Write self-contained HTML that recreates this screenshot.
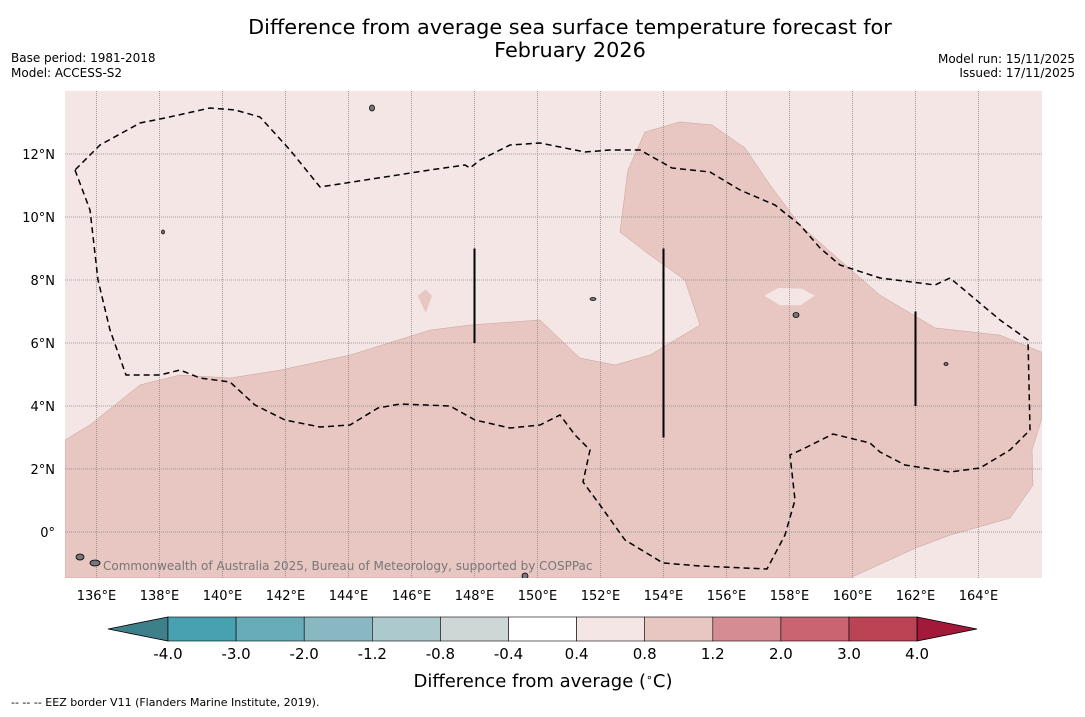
<!DOCTYPE html>
<html><head><meta charset="utf-8"><style>
body{margin:0;background:#fff;font-family:"DejaVu Sans","Liberation Sans",sans-serif}
svg text{font-family:"DejaVu Sans","Liberation Sans",sans-serif}
</style></head><body>
<svg id="c" width="1085" height="713" xmlns="http://www.w3.org/2000/svg">
<text x="570" y="34" font-size="20.8" text-anchor="middle">Difference from average sea surface temperature forecast for</text>
<text x="570" y="57" font-size="20.8" text-anchor="middle">February 2026</text>
<text x="11" y="62" font-size="12">Base period: 1981-2018</text>
<text x="11" y="77" font-size="12">Model: ACCESS-S2</text>
<text x="1075" y="63" font-size="12" text-anchor="end">Model run: 15/11/2025</text>
<text x="1075" y="77" font-size="12" text-anchor="end">Issued: 17/11/2025</text>
<defs><clipPath id="mapclip"><rect x="65" y="91" width="977" height="487"/></clipPath></defs>
<g id="map" clip-path="url(#mapclip)">
<rect x="65" y="91" width="977" height="487" fill="#f4e6e4"/>
</g>
<g id="axes"></g>
<g id="cbar"></g>
<text x="543" y="687" font-size="18" text-anchor="middle">Difference from average (<tspan baseline-shift="super" font-size="11">∘</tspan>C)</text>
<text x="11" y="706" font-size="11">--  --  -- EEZ border V11 (Flanders Marine Institute, 2019).</text>
</svg>
<script>
const NS="http://www.w3.org/2000/svg";
const lonTicks=[136,138,140,142,144,146,148,150,152,154,156,158,160,162,164];
const latTicks=[0,2,4,6,8,10,12];
const cbarLevels=["-4.0","-3.0","-2.0","-1.2","-0.8","-0.4","0.4","0.8","1.2","2.0","3.0","4.0"];
const cbarColors=["#48a1b0","#68abb9","#89b8c3","#acc9cd","#cfd6d6","#ffffff","#f4e6e4","#e8c6c2","#d58d93","#c96570","#bb4454"];
const warmRegion=[[135,-1.46],[135,2.92],[135.79,3.4],[137.38,4.67],[138.65,4.98],[140.24,4.89],[141.83,5.14],[144.05,5.62],[146.59,6.41],[147.86,6.57],[150.08,6.73],[151.35,5.52],[152.46,5.3],[153.57,5.62],[155.16,6.57],[154.68,8],[153.57,8.79],[152.62,9.52],[152.87,11.49],[153.41,12.7],[154.52,13.02],[155.54,12.92],[156.59,12.19],[157.38,11.02],[158.33,9.75],[159.6,8.63],[160.87,7.52],[162.62,6.48],[164.68,6.25],[166,5.71],[166,3.56],[165.7,2.6],[165.73,1.49],[165,0.44],[163.1,-0.1],[162,-0.51],[159.92,-1.46]];
const coolHole1=[[157.2,7.5],[157.65,7.75],[158.4,7.72],[158.8,7.5],[158.35,7.2],[157.7,7.2]];
const coolHole2=[[146.2,7.5],[146.45,7.7],[146.65,7.5],[146.45,6.95]];
const eezPx=[[75,170],[90,210],[98,280],[110,330],[126,375],[160,375],[180,370],[200,378],[230,382],[255,405],[285,420],[320,427],[350,425],[378,408],[400,404],[450,406],[475,420],[510,428],[540,425],[560,415],[575,435],[590,450],[583,482],[600,505],[625,540],[663,563],[700,566],[767,569],[785,535],[795,500],[790,455],[805,448],[833,434],[870,443],[880,452],[905,465],[950,472],[980,468],[1010,450],[1030,430],[1028,340],[1000,320],[950,278],[935,285],[880,278],[840,265],[820,248],[800,225],[775,205],[740,190],[710,172],[672,168],[640,150],[610,150],[585,152],[540,143],[510,145],[480,160],[470,168],[465,165],[430,170],[320,187],[290,150],[260,117],[235,110],[210,108],[165,118],[140,123],[100,145],[75,170]];
const bars=[[148,9,6],[154,9,3],[162,7,4]];
const X=lon=>65+(lon-135)*31.5, Y=lat=>91+(14-lat)*31.5;
function el(t,a,p){const e=document.createElementNS(NS,t);for(const k in a)e.setAttribute(k,a[k]);p.appendChild(e);return e;}
const map=document.getElementById('map'),axes=document.getElementById('axes'),cb=document.getElementById('cbar');
const pts=arr=>arr.map(p=>X(p[0]).toFixed(1)+','+Y(p[1]).toFixed(1)).join(' ');
let e=el('polygon',{points:pts(warmRegion),fill:'#e8c6c2',stroke:'#c9a09b','stroke-width':0.5},map);

e=el('polygon',{points:pts(coolHole1),fill:'#f4e6e4'},map);

e=el('polygon',{points:pts(coolHole2),fill:'#e8c6c2'},map);

lonTicks.forEach(l=>{const g=el('line',{x1:X(l),x2:X(l),y1:91,y2:578,stroke:'#888','stroke-width':0.8,'stroke-dasharray':'1,1'},map);

const t=el('text',{x:X(l),y:600,'font-size':13,'text-anchor':'middle'},axes);t.textContent=l+'°E';
});
latTicks.forEach(l=>{const g=el('line',{x1:65,x2:1042,y1:Y(l),y2:Y(l),stroke:'#888','stroke-width':0.8,'stroke-dasharray':'1,1'},map);

const t=el('text',{x:55,y:Y(l)+5,'font-size':13,'text-anchor':'end'},axes);t.textContent=l===0?'0°':l+'°N';
});
e=el('polyline',{points:eezPx.map(p=>p.join(',')).join(' '),fill:'none',stroke:'#000','stroke-width':1.5,'stroke-dasharray':'6,4'},map);

bars.forEach(b=>{const l=el('line',{x1:X(b[0]),x2:X(b[0]),y1:Y(b[1]),y2:Y(b[2]),stroke:'#000','stroke-width':2},map);
});
const islands=[[80,557,4,3],[95,563,5,3],[372,108,2.5,3],[163,232,1.5,2],[593,299,3,1.5],[796,315,3,2.5],[946,364,2,1.5],[525,576,3,3]];
islands.forEach(p=>{const c=el('ellipse',{cx:p[0],cy:p[1],rx:p[2],ry:p[3],fill:'#777',stroke:'#000','stroke-width':0.8},map);
});
e=el('text',{x:103,y:570,'font-size':12,fill:'#777'},map);e.textContent='Commonwealth of Australia 2025, Bureau of Meteorology, supported by COSPPac';

const cx0=168,cw=68.1,cy=617,ch=24;
e=el('polygon',{points:`108,629 ${cx0},${cy} ${cx0},${cy+ch}`,fill:'#3e8089',stroke:'#000','stroke-width':0.8},cb);

cbarColors.forEach((c,i)=>{const r=el('rect',{x:cx0+i*cw,y:cy,width:cw,height:ch,fill:c,stroke:'#000','stroke-width':0.6},cb);
});
const xe=cx0+cbarColors.length*cw;
e=el('polygon',{points:`${xe},${cy} 977,629 ${xe},${cy+ch}`,fill:'#a3193a',stroke:'#000','stroke-width':0.8},cb);

cbarLevels.forEach((v,i)=>{const t=el('text',{x:cx0+i*cw,y:659,'font-size':15,'text-anchor':'middle'},cb);t.textContent=v;
});
</script>
</body></html>
